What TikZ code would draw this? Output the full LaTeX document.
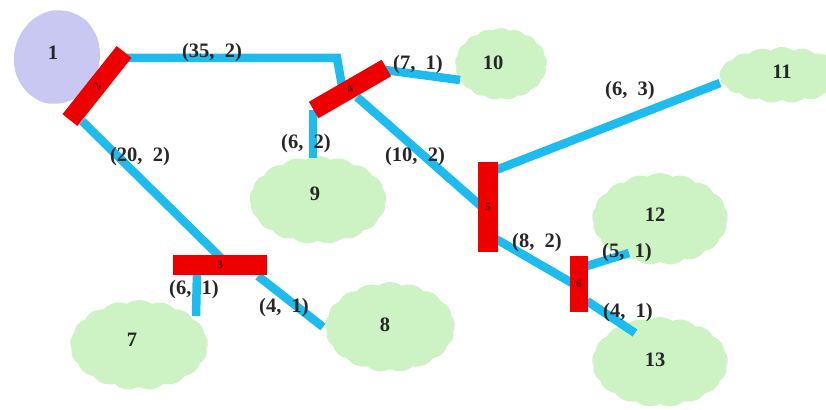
\documentclass[tikz,border=0pt]{standalone}
\usepackage{fontspec}
\setmainfont{Liberation Serif}
\usetikzlibrary{shapes.symbols}
\definecolor{pipe}{HTML}{1EBBEE}
\definecolor{leaf}{HTML}{CDF3C5}
\definecolor{lav}{HTML}{C8C8F2}
\definecolor{barred}{HTML}{EE0000}
\begin{document}
\begin{tikzpicture}[x=1pt,y=-1pt,
  lblfont/.style={font=\bfseries\fontsize{20.5}{24}\selectfont},
  blob/.style={cloud, cloud puffs=17, cloud puff arc=70, cloud ignores aspect, fill=leaf, draw=none, inner sep=0pt, lblfont, text=black!85},
  barnode/.style={rectangle, fill=barred, draw=none, inner sep=0pt, minimum height=19pt, font=\bfseries\fontsize{11}{12}\selectfont, text=black!60!barred},
  pipeline/.style={line width=8.5pt, draw=pipe, line join=miter},
  lbl/.style={lblfont, inner sep=0pt, text=black!85}]
\useasboundingbox (0,0) rectangle (826,409);
% clouds
\node[blob, fill=lav, cloud puffs=7, cloud puff arc=50, minimum width=86pt, minimum height=94pt, rotate=-15] (n1) at (57,57) {};
\node[lbl] at (53,53) {1};
\node[blob, minimum width=92pt, minimum height=72pt] (n10) at (501,64) {};
\node[lbl] at (493,63) {10};
\node[blob, minimum width=125pt, minimum height=56pt] (n11) at (782,75) {};
\node[lbl] at (782,72) {11};
\node[blob, minimum width=137pt, minimum height=88pt] (n9) at (318,200) {};
\node[lbl] at (315,194) {9};
\node[blob, minimum width=138pt, minimum height=90pt] (n7) at (139,345) {};
\node[lbl] at (132,340) {7};
\node[blob, minimum width=130pt, minimum height=90pt] (n8) at (390,327) {};
\node[lbl] at (385,325) {8};
\node[blob, minimum width=136pt, minimum height=92pt] (n12) at (660,219) {};
\node[lbl] at (655,215) {12};
\node[blob, minimum width=136pt, minimum height=90pt] (n13) at (660,362) {};
\node[lbl] at (655,360) {13};
% connector end points
\coordinate (e2a) at (125,58);
\coordinate (k24) at (337,58);
\coordinate (e4a) at (342,86);
\coordinate (e2b) at (82,121);
\coordinate (e3a) at (221,258);
\coordinate (e3b) at (197,272);
\coordinate (e7) at (196,316);
\coordinate (e3c) at (258,276);
\coordinate (e8) at (323,327);
\coordinate (e4b) at (313,110);
\coordinate (e9) at (313,158);
\coordinate (e4c) at (385,70);
\coordinate (e10) at (460,80);
\coordinate (e4d) at (357,97);
\coordinate (e5a) at (482,207);
\coordinate (e5b) at (496,170);
\coordinate (e11) at (720,83);
\coordinate (e5c) at (496,239);
\coordinate (e6a) at (572,283);
\coordinate (e6b) at (587,266);
\coordinate (e12) at (629,253);
\coordinate (e6c) at (587,301);
\coordinate (e13) at (635,333);
% pipes
\draw[pipeline] (e2a) -- (k24) -- (e4a);
\draw[pipeline] (e2b) -- (e3a);
\draw[pipeline] (e3b) -- (e7);
\draw[pipeline] (e3c) -- (e8);
\draw[pipeline] (e4b) -- (e9);
\draw[pipeline] (e4c) -- (e10);
\draw[pipeline] (e4d) -- (e5a);
\draw[pipeline] (e5b) -- (e11);
\draw[pipeline] (e5c) -- (e6a);
\draw[pipeline] (e6b) -- (e12);
\draw[pipeline] (e6c) -- (e13);
% bars
\node[barnode, minimum width=87pt, rotate=51.5] (b2) at (97,86) {2};
\node[barnode, minimum width=94pt, minimum height=20pt] (b3) at (220,265) {3};
\node[barnode, minimum width=84pt, rotate=30] (b4) at (350,89) {4};
\node[barnode, minimum width=20pt, minimum height=90pt] (b5) at (488,207) {5};
\node[barnode, minimum width=18pt, minimum height=56pt] (b6) at (579,284) {6};
% labels
\node[lbl] at (212,53) {(35,\ \ 2)};
\node[lbl] at (140,157) {(20,\ \ 2)};
\node[lbl] at (306,144) {(6,\ \ 2)};
\node[lbl] at (415,157) {(10,\ \ 2)};
\node[lbl] at (418,65) {(7,\ \ 1)};
\node[lbl] at (630,91) {(6,\ \ 3)};
\node[lbl] at (194,290) {(6,\ \ 1)};
\node[lbl] at (284,308) {(4,\ \ 1)};
\node[lbl] at (537,243) {(8,\ \ 2)};
\node[lbl] at (627,253) {(5,\ \ 1)};
\node[lbl] at (628,313) {(4,\ \ 1)};
\end{tikzpicture}
\end{document}
